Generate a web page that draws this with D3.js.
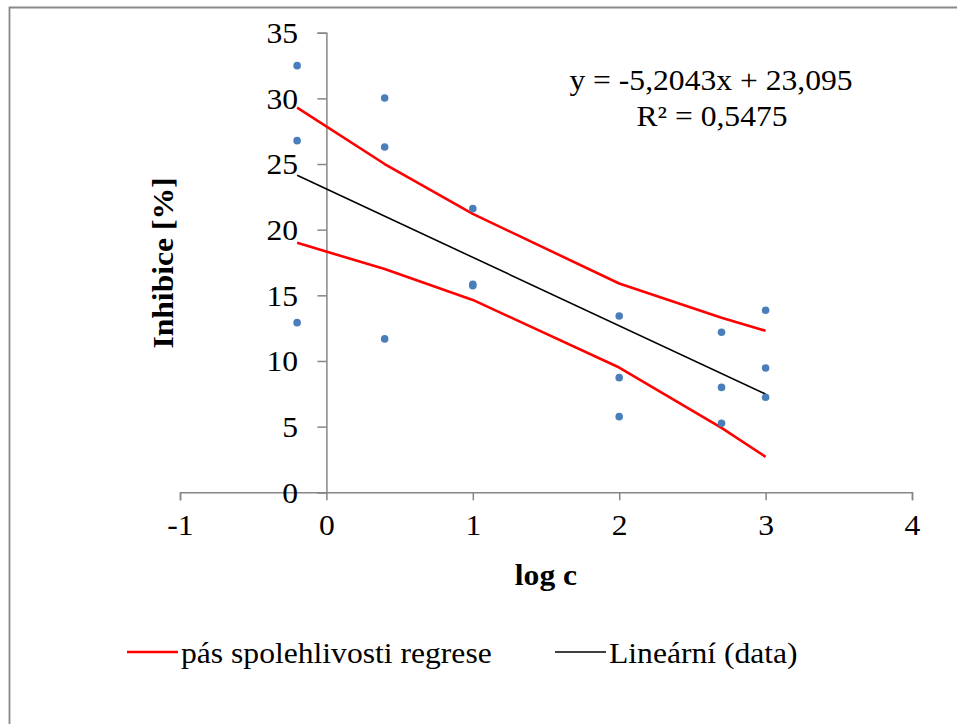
<!DOCTYPE html>
<html><head><meta charset="utf-8">
<script src="https://cdn.jsdelivr.net/npm/d3@7"></script>
<style>html,body{margin:0;padding:0;background:#fff;overflow:hidden}
svg text{font-family:"Liberation Serif","Times New Roman",Times,serif;}</style>
</head><body>
<script>
// Data
const logC = [-0.2, -0.2, -0.2, 0.398, 0.398, 0.398, 1, 1, 1, 2, 2, 2, 2.699, 2.699, 2.699, 3, 3, 3];
const inhibice = [32.49, 26.78, 12.92, 30.03, 26.30, 11.68, 21.60, 15.84, 15.73, 13.43, 8.73, 5.76, 12.19, 7.99, 5.26, 13.86, 9.47, 7.24];
const bandX = [-0.2, 0.398, 1, 2, 2.699, 3];
const bandUpper = [29.3, 25.0, 21.2, 15.9, 13.3, 12.3];
const bandLower = [19.0, 17.0, 14.65, 9.5, 4.9, 2.7];
const trendX = [-0.2, 3];
const trendY = [24.14, 7.48];
const xTicks = [-1, 0, 1, 2, 3, 4];
const yTicks = [0, 5, 10, 15, 20, 25, 30, 35];
const equationText = "y = -5,2043x + 23,095";
const r2Text = "R² = 0,5475";
const xTitle = "log c";
const yTitle = "Inhibice [%]";
const legendLabels = ["pás spolehlivosti regrese", "Lineární (data)"];

const W = 957, H = 724;
const FS = 29, SX = 1.09;
const svg = d3.select("body").append("svg").attr("width", W).attr("height", H);

function addText(tx, ty, str, anchor, bold, rot) {
  return svg.append("text")
    .attr("transform", `translate(${tx},${ty})${rot ? ` rotate(${rot})` : ""} scale(${SX},1)`)
    .attr("text-anchor", anchor).attr("font-size", FS)
    .attr("font-weight", bold ? "bold" : "normal").attr("fill", "#000").text(str);
}

// chart frame
svg.append("path").attr("d", `M9.5,${H+5}V7.5H${W+5}`).attr("fill","none").attr("stroke","#898989").attr("stroke-width",1.8);

const x = d3.scaleLinear().domain([-1, 4]).range([180, 912]);
const y = d3.scaleLinear().domain([0, 35]).range([492.3, 32.7]);
const axisColor = "#868686";
const fmt = d => String(d); // plain hyphen-minus, as in the reference

const gx = svg.append("g").attr("transform", `translate(0,${y(0)})`)
  .call(d3.axisBottom(x).tickValues(xTicks).tickSize(8).tickPadding(14).tickFormat(fmt));
const gy = svg.append("g").attr("transform", `translate(${x(0)},0)`)
  .call(d3.axisLeft(y).tickValues(yTicks).tickSize(9).tickPadding(17).tickFormat(fmt));
[gx, gy].forEach(g => {
  g.attr("font-family", null).attr("font-size", null);
  g.select(".domain").attr("stroke", axisColor).attr("stroke-width", 1.5);
  g.selectAll(".tick line").attr("stroke", axisColor).attr("stroke-width", 1.5);
  g.selectAll(".tick text").attr("fill", "#000").attr("font-size", FS).attr("transform", `scale(${SX},1)`);
});
gx.selectAll(".tick text").attr("dy", "0.71em");
gy.selectAll(".tick text").attr("dy", "0.34em");

const line = d3.line().x(d => x(d[0])).y(d => y(d[1]));
svg.append("path").datum(bandX.map((v,i)=>[v,bandUpper[i]])).attr("d", line)
  .attr("fill","none").attr("stroke","#FF0000").attr("stroke-width",2.6).attr("stroke-linejoin","round");
svg.append("path").datum(bandX.map((v,i)=>[v,bandLower[i]])).attr("d", line)
  .attr("fill","none").attr("stroke","#FF0000").attr("stroke-width",2.6).attr("stroke-linejoin","round");
svg.append("path").datum(trendX.map((v,i)=>[v,trendY[i]])).attr("d", line)
  .attr("fill","none").attr("stroke","#000").attr("stroke-width",1.6);

svg.selectAll("circle.pt").data(logC.map((v,i)=>[v,inhibice[i]])).enter().append("circle")
  .attr("class","pt").attr("cx", d=>x(d[0])).attr("cy", d=>y(d[1])).attr("r", 3.8).attr("fill", "#4A7EBB");

addText(711, 90, equationText, "middle");
addText(712, 126, r2Text, "middle");

addText(546, 585, xTitle, "middle", true);
addText(173, 263, yTitle, "middle", true, -90);

const legColors = ["#FF0000", "#000"];
const legX = [127, 555];
const legW = [2.6, 1.6];
legendLabels.forEach((lab, i) => {
  svg.append("line").attr("x1", legX[i]).attr("x2", legX[i]+51).attr("y1", 652).attr("y2", 652)
    .attr("stroke", legColors[i]).attr("stroke-width", legW[i]);
  addText(legX[i]+54, 663, lab, "start");
});
</script>
</body></html>
